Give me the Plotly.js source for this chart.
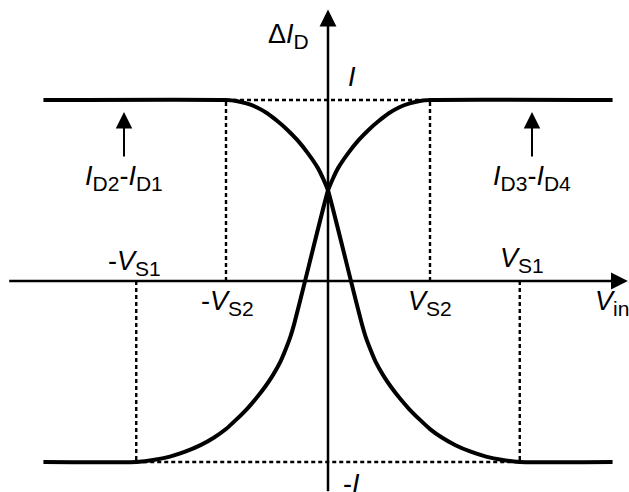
<!DOCTYPE html>
<html>
<head>
<meta charset="utf-8">
<script src="https://cdn.plot.ly/plotly-3.0.1.min.js"></script>
<style>
  html, body { margin: 0; padding: 0; background: #ffffff; }
  #chart { width: 629px; height: 492px; }
</style>
</head>
<body>
<div id="chart"></div>
<script>
// Transfer characteristic of the cross-coupled pair: ΔI_D versus V_in.
// Units: V_in normalised so that V_S2 = 1, currents normalised to the tail current I.

const tailCurrent = 1;            // I
const vS2 = 1.0;                  // inner saturation voltage V_S2
const vS1 = 1.88;                 // outer saturation voltage V_S1

// I_D2 - I_D1 (falls from +I to -I)
const vinD21 = [-2.79, -1.0, -0.9, -0.8, -0.7, -0.6, -0.5, -0.4, -0.3, -0.2, -0.1, -0.05, 0,
                0.225, 0.33, 0.37, 0.41, 0.47, 0.54, 0.62, 0.71, 0.80, 0.90, 1.00, 1.12, 1.25, 1.40, 1.55, 1.70, 1.88, 2.79];
const dI21   = [1, 1, 0.995, 0.981, 0.96, 0.928, 0.885, 0.836, 0.778, 0.708, 0.625, 0.568, 0.5,
                0, -0.234, -0.31, -0.37, -0.45, -0.52, -0.587, -0.652, -0.71, -0.766, -0.818, -0.866, -0.907, -0.943, -0.97, -0.988, -1, -1];

// I_D3 - I_D4 (rises from -I to +I)
const vinD34 = [-2.79, -1.88, -1.70, -1.55, -1.40, -1.25, -1.12, -1.00, -0.90, -0.80, -0.71, -0.62, -0.54, -0.47, -0.41, -0.37, -0.33, -0.225,
                0, 0.05, 0.1, 0.2, 0.3, 0.4, 0.5, 0.6, 0.7, 0.8, 0.9, 1.0, 2.79];
const dI34   = [-1, -1, -0.988, -0.97, -0.943, -0.907, -0.866, -0.818, -0.766, -0.71, -0.652, -0.587, -0.52, -0.45, -0.37, -0.31, -0.234, 0,
                0.5, 0.568, 0.625, 0.708, 0.778, 0.836, 0.885, 0.928, 0.96, 0.981, 0.995, 1, 1];

// Extent of the drawn axes (tail, arrow tip)
const vinAxis = [-3.14, 2.94];
const dIAxis  = [-1.17, 1.50];

// Horizontal position of the pointer arrows under the curve names
const pointerX = [-2.0, 2.0];

const FONT = 'Liberation Sans, Arial, sans-serif';
const sub = s => '<sub><span style="font-size:21px">' + s + '</span></sub>';

const guide = { color: '#000', width: 2.4, dash: '4px,3px' };
const curve = { color: '#000', width: 4, shape: 'spline', smoothing: 0.5 };

const traces = [
  // dotted guides to the saturation points
  { x: [-vS2, -vS2, null, vS2, vS2, null, -vS2, vS2],
    y: [0, tailCurrent, null, 0, tailCurrent, null, tailCurrent, tailCurrent],
    mode: 'lines', line: guide, hoverinfo: 'skip' },
  { x: [-vS1, -vS1, null, vS1, vS1, null, -vS1, vS1],
    y: [0, -tailCurrent, null, 0, -tailCurrent, null, -tailCurrent, -tailCurrent],
    mode: 'lines', line: guide, hoverinfo: 'skip' },
  // the two characteristics
  { x: vinD21, y: dI21, mode: 'lines', name: 'ID2-ID1', line: curve },
  { x: vinD34, y: dI34, mode: 'lines', name: 'ID3-ID4', line: curve }
];

const arrowBase = { text: '', showarrow: true, arrowhead: 2, arrowcolor: '#000', standoff: 0 };

const label = (text, x, y, xs, ys, extra) => Object.assign({
  text: text, x: x, y: y, xref: 'x', yref: 'y', xshift: xs, yshift: ys,
  showarrow: false, xanchor: 'center', yanchor: 'middle',
  font: { family: FONT, size: 27, color: '#000' }
}, extra || {});

const annotations = [
  // axes
  Object.assign({}, arrowBase, { x: vinAxis[1], y: 0, ax: vinAxis[0], ay: 0, axref: 'x', ayref: 'y',
    arrowwidth: 2.5, arrowsize: 1.35 }),
  Object.assign({}, arrowBase, { x: 0, y: dIAxis[1], ax: 0, ay: dIAxis[0], axref: 'x', ayref: 'y',
    arrowwidth: 2.5, arrowsize: 1.35 }),
  // pointers to the two curves
  Object.assign({}, arrowBase, { x: pointerX[0], y: tailCurrent, yshift: -12, ax: 0, ay: 46,
    arrowwidth: 2, arrowsize: 1.65 }),
  Object.assign({}, arrowBase, { x: pointerX[1], y: tailCurrent, yshift: -12, ax: 0, ay: 46,
    arrowwidth: 2, arrowsize: 1.65 }),
  // text
  label('Δ<i>I</i>' + sub('D'), 0, dIAxis[1], -40, -26),
  label('<i>I</i>', 0, tailCurrent, 24, 23),
  label('-<i>I</i>', 0, -tailCurrent, 23, -22),
  label('-<i>V</i>' + sub('S1'), -vS1, 0, -2, 18),
  label('-<i>V</i>' + sub('S2'), -vS2, 0, 1, -22),
  label('<i>V</i>' + sub('S1'), vS1, 0, 2, 21),
  label('<i>V</i>' + sub('S2'), vS2, 0, 0, -22),
  label('<i>V</i>' + sub('in'), vinAxis[1], 0, -35, -22, { xanchor: 'left' }),
  label('<i>I</i>' + sub('D2') + '-<i>I</i>' + sub('D1'), pointerX[0], tailCurrent, 0, -78),
  label('<i>I</i>' + sub('D3') + '-<i>I</i>' + sub('D4'), pointerX[1], tailCurrent, 0, -78)
];

const layout = {
  width: 629, height: 492,
  margin: { l: 0, r: 0, t: 0, b: 0, pad: 0 },
  paper_bgcolor: '#ffffff', plot_bgcolor: '#ffffff',
  showlegend: false,
  xaxis: { range: [-3.2157, 2.951], visible: false, fixedrange: true },
  yaxis: { range: [-1.1657, 1.5525], visible: false, fixedrange: true },
  annotations: annotations,
  font: { family: FONT }
};

Plotly.newPlot('chart', traces, layout, { displayModeBar: false, staticPlot: true });
</script>
</body>
</html>
